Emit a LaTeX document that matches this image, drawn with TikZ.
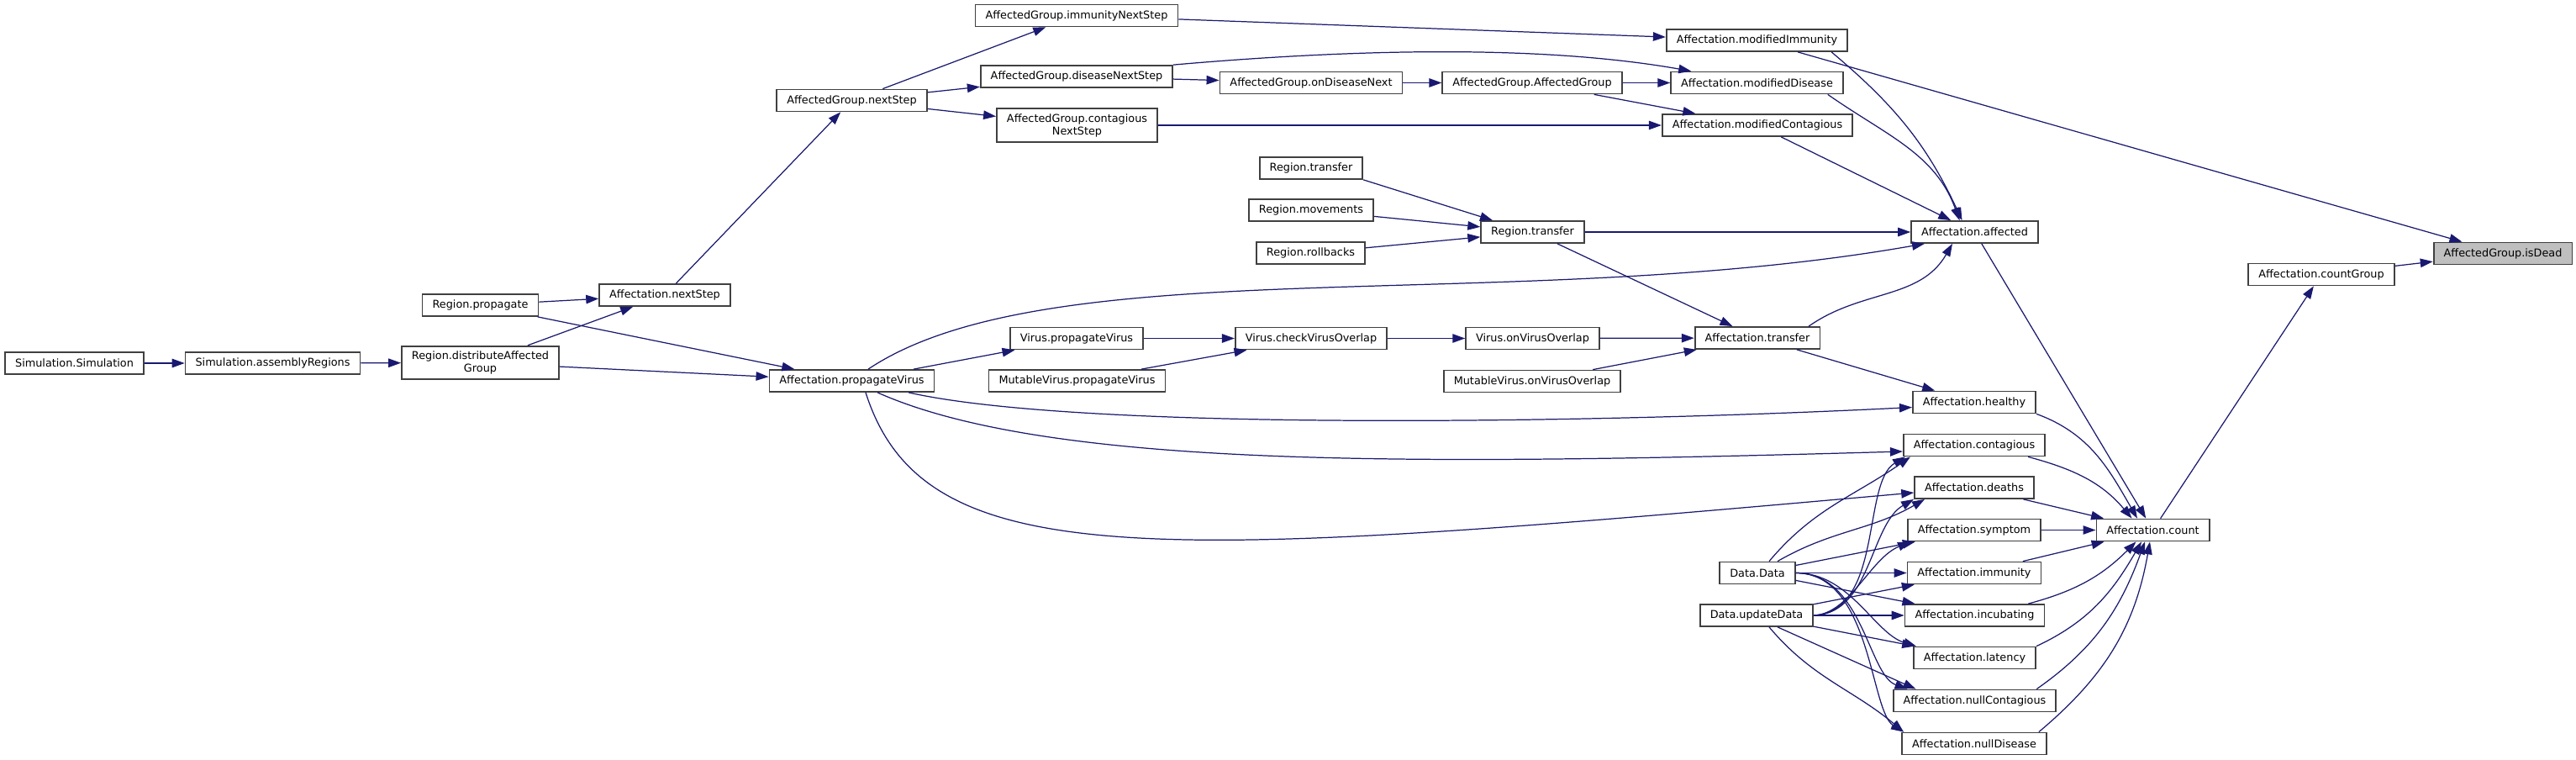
\documentclass[tikz,border=0pt]{standalone}
\usepackage{fontspec}
\setmainfont{DejaVu Sans}
\usepackage{tikz}
\usetikzlibrary{arrows.meta,positioning}
\definecolor{edgeblue}{HTML}{191970}
\newcommand{\fnfont}{\fontsize{7.3}{8.5}\selectfont}
\tikzset{
  >={Triangle[length=0.3cm,width=0.21cm]},
  fn/.style   ={rectangle, draw=black!75, line width=1pt, fill=white,
                inner xsep=0.24cm, inner ysep=3.5pt, minimum height=0.52cm,
                font=\fnfont, align=center},
  root/.style ={fn, fill=black!25},
  call/.style ={->, draw=edgeblue, line width=0.7pt},
}

\begin{document}
\begin{tikzpicture}
\useasboundingbox (0,0) rectangle (61.3,18.06);
% ---- simulation / region side (left) --------------------------------
\node[fn] (simsim)     at (1.77,9.42)  {Simulation.Simulation};
\node[fn] (assembly)   at (6.49,9.42)  {Simulation.assemblyRegions};
\node[fn] (distrib)    at (11.43,9.43) {Region.distributeAffected\\Group};
\node[fn] (propagate)  at (11.43,10.80) {Region.propagate};
\node[fn] (nextStep)   at (15.82,11.04) {Affectation.nextStep};
\node[fn] (agNext)     at (20.27,15.67) {AffectedGroup.nextStep};
\node[fn] (propV)      at (20.27,9.00) {Affectation.propagateVirus};

% ---- affected group steps --------------------------------------------
\node[fn] (immNext)    at (25.62,17.69) {AffectedGroup.immunityNextStep};
\node[fn] (disNext)    at (25.62,16.24) {AffectedGroup.diseaseNextStep};
\node[fn] (conNext)    at (25.63,15.08) {AffectedGroup.contagious\\NextStep};
\node[fn] (onDis)      at (31.20,16.09) {AffectedGroup.onDiseaseNext};
\node[fn] (agag)       at (36.46,16.09) {AffectedGroup.AffectedGroup};
\node[fn] (modImm)     at (41.81,17.10) {Affectation.modifiedImmunity};
\node[fn] (modDis)     at (41.81,16.09) {Affectation.modifiedDisease};
\node[fn] (modCon)     at (41.82,15.08) {Affectation.modifiedContagious};

% ---- transfers and viruses -------------------------------------------
\node[fn] (rtTop)      at (31.20,14.06) {Region.transfer};
\node[fn] (rMov)       at (31.20,13.06) {Region.movements};
\node[fn] (rRoll)      at (31.19,12.04) {Region.rollbacks};
\node[fn] (rtMid)      at (36.47,12.54) {Region.transfer};
\node[fn] (affected)   at (46.99,12.54) {Affectation.affected};
\node[fn] (vProp)      at (25.62,10.01) {Virus.propagateVirus};
\node[fn] (mvProp)     at (25.63,9.00) {MutableVirus.propagateVirus};
\node[fn] (vCheck)     at (31.20,10.01) {Virus.checkVirusOverlap};
\node[fn] (vOver)      at (36.47,10.01) {Virus.onVirusOverlap};
\node[fn] (mvOver)     at (36.46,8.99) {MutableVirus.onVirusOverlap};
\node[fn] (aTransfer)  at (41.82,10.02) {Affectation.transfer};

% ---- counters (right) ------------------------------------------------
\node[fn] (healthy)    at (46.98,8.49) {Affectation.healthy};
\node[fn] (contagious) at (46.98,7.47) {Affectation.contagious};
\node[fn] (deaths)     at (46.98,6.46) {Affectation.deaths};
\node[fn] (symptom)    at (46.98,5.45) {Affectation.symptom};
\node[fn] (immunity)   at (46.98,4.43) {Affectation.immunity};
\node[fn] (incubating) at (46.99,3.42) {Affectation.incubating};
\node[fn] (latency)    at (46.99,2.41) {Affectation.latency};
\node[fn] (nullCon)    at (46.99,1.39) {Affectation.nullContagious};
\node[fn] (nullDis)    at (46.98,0.37) {Affectation.nullDisease};
\node[fn] (dataData)   at (41.82,4.43) {Data.Data};
\node[fn] (updateData) at (41.80,3.42) {Data.updateData};
\node[fn] (count)      at (51.23,5.45) {Affectation.count};
\node[fn] (countGroup) at (55.24,11.53) {Affectation.countGroup};
\node[root] (isDead)   at (59.56,12.03) {AffectedGroup.isDead};

% ---- calls -----------------------------------------------------------
\draw[call] (simsim) -- (assembly);
\draw[call] (assembly) -- (distrib);
\draw[call] (distrib) -- (nextStep);
\draw[call] (distrib) -- (propV);
\draw[call] (propagate) -- (nextStep);
\draw[call] (propagate) -- (propV);
\draw[call] (nextStep) -- (agNext);
\draw[call] (agNext) -- (immNext);
\draw[call] (agNext) -- (disNext);
\draw[call] (agNext) -- (conNext);
\draw[call] (immNext) -- (modImm);
\draw[call] (disNext) -- (onDis);
\draw[call] (disNext.north east) to[out=5,in=170,looseness=0.8]
  ([xshift=0.5cm]modDis.north west);
\draw[call] (onDis) -- (agag);
\draw[call] (agag) -- (modDis);
\draw[call] (agag) -- (modCon);
\draw[call] (conNext) -- (modCon);
\draw[call] ([xshift=-0.4cm]modImm.south east) to[out=-40,in=115]
  ([xshift=-0.3cm]affected.north);
\draw[call] (modImm) -- (isDead);
\draw[call] ([xshift=-0.38cm]modDis.south east) to[out=-35,in=110]
  ([xshift=-0.36cm]affected.north);
\draw[call] (modCon) -- (affected);
\draw[call] (rtTop.south east) -- ([xshift=-0.95cm]rtMid.north);
\draw[call] (rMov) -- (rtMid);
\draw[call] (rRoll) -- (rtMid);
\draw[call] (rtMid) -- (affected);
\draw[call] (rtMid) -- (aTransfer);
\draw[call] ([xshift=0.39cm]propV.north) .. controls +(4.34,2.9) and +(-9.8,-1.72)
  .. ([xshift=-1.19cm]affected.south);
\draw[call] (propV) -- (vProp);
\draw[call] (vProp) -- (vCheck);
\draw[call] (mvProp) -- (vCheck);
\draw[call] (vCheck) -- (vOver);
\draw[call] (vOver) -- (aTransfer);
\draw[call] (mvOver) -- (aTransfer);
\draw[call] ([xshift=1.22cm]aTransfer.north) to[out=35,in=240]
  ([xshift=-0.53cm]affected.south);
\draw[call] (aTransfer) -- (healthy);
\draw[call] (affected) -- (count);
% long calls from propagateVirus down to the counters
\draw[call] ([xshift=1.35cm]propV.south) .. controls +(4,-0.9) and +(-8,-0.4)
  .. ([yshift=-0.12cm]healthy.west);
\draw[call] ([xshift=0.61cm]propV.south) .. controls +(4.12,-1.84) and +(-11.3,-0.32)
  .. ([yshift=-0.15cm]contagious.west);
\draw[call] ([xshift=0.33cm]propV.south) .. controls +(1.4,-4.4) and +(-18,-1.6)
  .. ([yshift=-0.12cm]deaths.west);

% ---- counters into count ---------------------------------------------
\draw[call] (healthy.south east) to[out=-20,in=120] ([xshift=-0.37cm]count.north);
\draw[call] ([xshift=-0.42cm]contagious.south east) to[out=-15,in=130]
  ([xshift=-0.5cm]count.north);
\draw[call] (deaths) -- (count);
\draw[call] (symptom) -- (count);
\draw[call] (immunity) -- (count);
\draw[call] ([xshift=-0.4cm]incubating.north east) to[out=15,in=-135]
  ([xshift=-0.4cm]count.south);
\draw[call] (latency.north east) to[out=25,in=-120] ([xshift=-0.27cm]count.south);
\draw[call] ([xshift=-0.48cm]nullCon.north east) to[out=35,in=-110]
  ([xshift=-0.19cm]count.south);
\draw[call] ([xshift=-0.2cm]nullDis.north east) to[out=40,in=-100]
  ([xshift=-0.07cm]count.south);
\draw[call] (count) -- (countGroup);
\draw[call] (countGroup) -- (isDead);

% ---- data collectors -------------------------------------------------
\draw[call] ([xshift=0.28cm]dataData.north) to[out=50,in=-145]
  ([xshift=-1.52cm]contagious.south);
\draw[call] ([xshift=0.48cm]dataData.north) to[out=30,in=-150]
  ([xshift=-1.18cm]deaths.south);
\draw[call] (dataData) -- (symptom);
\draw[call] (dataData) -- (immunity);
\draw[call] (dataData) -- (incubating);
\draw[call] (dataData.east) .. controls +(1.3,0) and +(-1,0.3)
  .. ([xshift=-1.39cm]latency.north);
\draw[call] (dataData.east) .. controls +(1.6,0) and +(-0.94,0.34)
  .. ([xshift=-1.6cm]nullCon.north);
\draw[call] (dataData.east) .. controls +(1.8,0) and +(-0.8,0.5)
  .. ([xshift=-1.68cm]nullDis.north);
\draw[call] (updateData.east) .. controls +(1.66,0.1) and +(-1.04,-0.62)
  .. ([xshift=-1.64cm]contagious.south);
\draw[call] (updateData.east) .. controls +(1.36,0.04) and +(-1.04,-0.6)
  .. ([xshift=-1.44cm]deaths.south);
\draw[call] (updateData.east) .. controls +(0.86,0.04) and +(-0.96,-0.4)
  .. ([xshift=-1.52cm]symptom.south);
\draw[call] (updateData) -- (immunity);
\draw[call] (updateData) -- (incubating);
\draw[call] (updateData) -- (latency);
\draw[call] ([xshift=0.5cm]updateData.south) -- ([xshift=-1.4cm]nullCon.north);
\draw[call] ([xshift=0.3cm]updateData.south) to[out=-50,in=140]
  ([xshift=-1.68cm]nullDis.north);
\end{tikzpicture}
\end{document}
